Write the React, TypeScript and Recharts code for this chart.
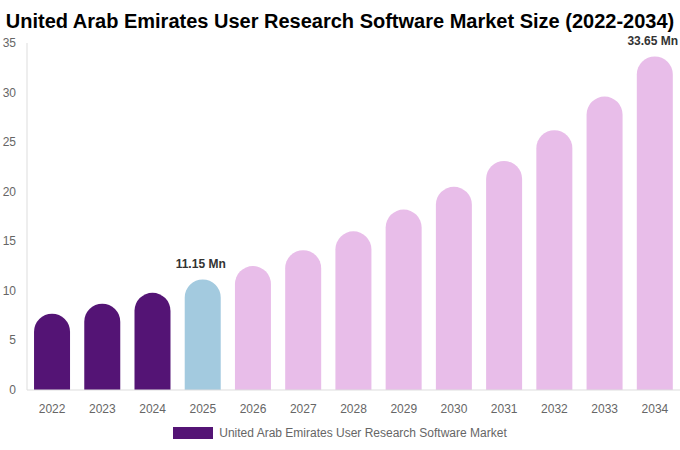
import { BarChart, Bar, XAxis, YAxis, Legend, Cell, LabelList } from 'recharts'

const years = ['2022', '2023', '2024', '2025', '2026', '2027', '2028', '2029', '2030', '2031', '2032', '2033', '2034']
const marketSize = [7.7, 8.7, 9.8, 11.15, 12.5, 14.1, 16.0, 18.2, 20.5, 23.1, 26.2, 29.6, 33.65]
const labelledYears = ['2025', '2034']
const yTicks = [0, 5, 10, 15, 20, 25, 30, 35]

const seriesName = 'United Arab Emirates User Research Software Market'

const data = years.map((year, i) => ({ year, value: marketSize[i] }))

const barColor = (year: string) => {
  const y = Number(year)
  if (y < 2025) return '#541475'
  if (y === 2025) return '#a3cadf'
  return '#e8bde9'
}

const TopLabel = (props: any) => {
  const { x, y, width, index } = props
  const row = data[index]
  if (!row || !labelledYears.includes(row.year)) return null
  let cx = x + width / 2 - 2
  let anchor: 'middle' | 'end' = 'middle'
  if (cx + 26 > 679) {
    cx = 678
    anchor = 'end'
  }
  return (
    <text
      x={cx}
      y={y - 11}
      textAnchor={anchor}
      fontSize={12}
      fontWeight='bold'
      fill='#333'
    >
      {row.value.toFixed(2)} Mn
    </text>
  )
}

const YTick = (props: any) => {
  const { y, payload } = props
  return (
    <text x={16} y={y} dy={4} textAnchor='end' fontSize={12} fill='#666'>
      {payload.value}
    </text>
  )
}

const LegendBox = () => (
  <div
    style={{
      display: 'flex',
      justifyContent: 'center',
      alignItems: 'center',
      fontSize: 12,
      color: '#666',
    }}
  >
    <span
      style={{
        display: 'inline-block',
        width: 40,
        height: 12,
        background: '#541475',
        marginRight: 6,
      }}
    />
    {seriesName}
  </div>
)

const App = () => {
  return (
    <div
      style={{
        position: 'relative',
        width: 680,
        height: 450,
        fontFamily: '"Liberation Sans", Arial, sans-serif',
        background: '#fff',
      }}
    >
      <style>{'body { margin: 0; }'}</style>

      {/* Title */}
      <div
        style={{
          position: 'absolute',
          top: 10,
          left: 0,
          width: 680,
          textAlign: 'center',
          fontSize: 20,
          fontWeight: 'bold',
          color: '#000',
          zIndex: 1,
        }}
      >
        United Arab Emirates User Research Software Market Size (2022-2034)
      </div>

      <BarChart
        width={680}
        height={450}
        data={data}
        margin={{ top: 43, right: 0, left: 0, bottom: 0 }}
        barCategoryGap='14%'
      >
        <XAxis
          dataKey='year'
          tickLine={false}
          axisLine={{ stroke: '#ddd' }}
          tick={{ fontSize: 12, fill: '#666' }}
          tickMargin={8}
          height={32}
        />
        <YAxis
          width={27}
          domain={[0, 35]}
          ticks={yTicks}
          tickLine={false}
          axisLine={{ stroke: '#ddd' }}
          tick={<YTick />}
        />
        <Legend
          verticalAlign='bottom'
          height={28}
          wrapperStyle={{ top: 426 }}
          content={<LegendBox />}
        />
        <Bar
          dataKey='value'
          name={seriesName}
          radius={[18, 18, 0, 0]}
          isAnimationActive={false}
        >
          {data.map((d) => (
            <Cell key={d.year} fill={barColor(d.year)} />
          ))}
          <LabelList dataKey='value' content={<TopLabel />} />
        </Bar>
      </BarChart>
    </div>
  )
}

export default App
